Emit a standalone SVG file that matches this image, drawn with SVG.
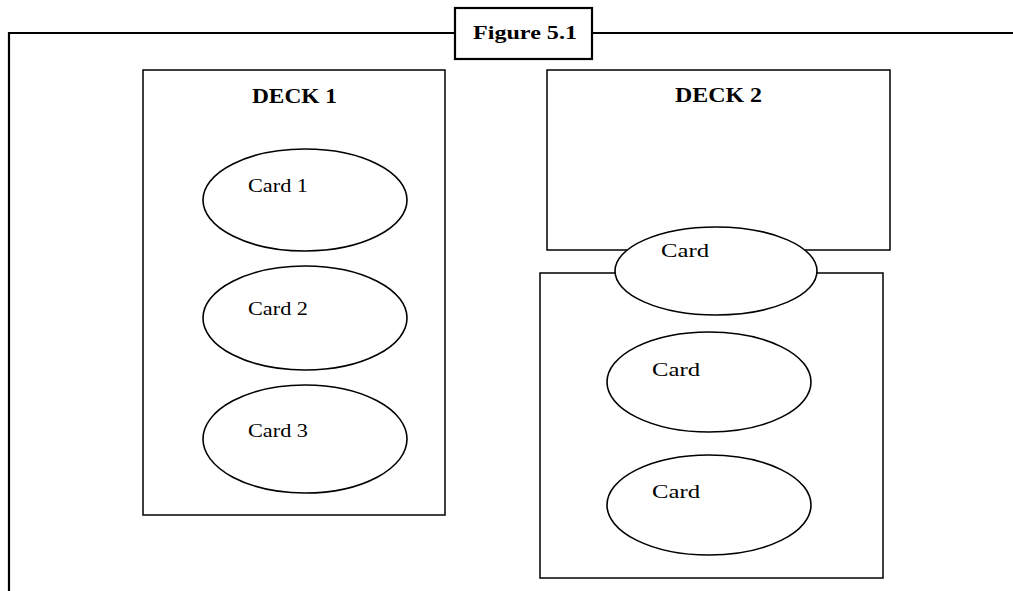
<svg xmlns="http://www.w3.org/2000/svg" width="1013" height="591" viewBox="0 0 1013 591">
<style>
.frame{fill:none;stroke:#000;stroke-width:2.2}
.box{fill:#fff;stroke:#000;stroke-width:1.5}
.card{fill:#fff;stroke:#000;stroke-width:1.6}
.title{font-family:"Liberation Serif",serif;font-weight:bold;font-size:21px}
.fig{font-family:"Liberation Serif",serif;font-weight:bold;font-size:19px}
.lbl{font-family:"Liberation Serif",serif;font-size:18px}
</style>
<rect width="1013" height="591" fill="#fff"/>
<g id="frame">
<polyline class="frame" points="455,33 9,33 9,591"/>
<line class="frame" x1="592" y1="33" x2="1013" y2="33"/>
<rect class="frame" x="455" y="8" width="137" height="51"/>
<text class="fig" x="473" y="39" textLength="104" lengthAdjust="spacingAndGlyphs">Figure  5.1</text>
</g>
<g id="deck1">
<rect class="box" x="143" y="70" width="302" height="445"/>
<text class="title" x="252" y="103" textLength="85" lengthAdjust="spacingAndGlyphs">DECK 1</text>
</g>
<g id="card1">
<ellipse class="card" cx="305" cy="200" rx="102" ry="51"/>
<text class="lbl" x="248" y="192" textLength="60" lengthAdjust="spacingAndGlyphs">Card 1</text>
</g>
<g id="card2">
<ellipse class="card" cx="305" cy="318" rx="102" ry="52"/>
<text class="lbl" x="248" y="315" textLength="60" lengthAdjust="spacingAndGlyphs">Card 2</text>
</g>
<g id="card3">
<ellipse class="card" cx="305" cy="439" rx="102" ry="54"/>
<text class="lbl" x="248" y="437" textLength="60" lengthAdjust="spacingAndGlyphs">Card 3</text>
</g>
<g id="deck2">
<rect class="box" x="547" y="70" width="343" height="180"/>
<text class="title" x="675" y="102" textLength="87" lengthAdjust="spacingAndGlyphs">DECK 2</text>
</g>
<g id="deck2-lower">
<rect class="box" x="540" y="273" width="343" height="305"/>
</g>
<g id="card-top">
<ellipse class="card" cx="716" cy="271" rx="101" ry="44"/>
<text class="lbl" x="661" y="257" textLength="48" lengthAdjust="spacingAndGlyphs">Card</text>
</g>
<g id="card-mid">
<ellipse class="card" cx="709" cy="382" rx="102" ry="50"/>
<text class="lbl" x="652" y="376" textLength="48" lengthAdjust="spacingAndGlyphs">Card</text>
</g>
<g id="card-bottom">
<ellipse class="card" cx="709" cy="505" rx="102" ry="50"/>
<text class="lbl" x="652" y="498" textLength="48" lengthAdjust="spacingAndGlyphs">Card</text>
</g>
<g id="connectors"></g>
</svg>
